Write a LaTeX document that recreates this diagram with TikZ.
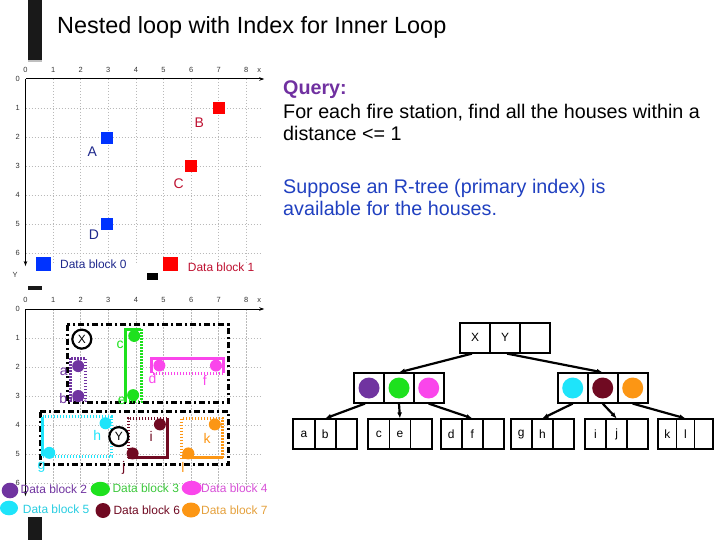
\documentclass[tikz,border=0pt]{standalone}
\usepackage{fontspec}
\setmainfont{Liberation Sans}
\usetikzlibrary{arrows.meta}
\definecolor{cpur}{RGB}{112,52,160}
\definecolor{cgrn}{RGB}{30,225,30}
\definecolor{cmag}{RGB}{250,70,235}
\definecolor{ccya}{RGB}{30,228,250}
\definecolor{cmar}{RGB}{112,10,34}
\definecolor{cora}{RGB}{252,150,20}
\definecolor{cblu}{RGB}{0,51,255}
\definecolor{cnavy}{RGB}{30,40,140}
\definecolor{cred}{RGB}{255,0,0}
\definecolor{ccrim}{RGB}{190,16,48}
\definecolor{qpur}{RGB}{112,48,160}
\definecolor{qblu}{RGB}{32,64,192}
\definecolor{lgrn}{RGB}{60,200,60}
\definecolor{lmag}{RGB}{215,80,215}
\definecolor{lcya}{RGB}{40,205,225}
\definecolor{lora}{RGB}{228,160,60}
\begin{document}
\begin{tikzpicture}[x=1bp,y=-1bp,
  gridl/.style={gray!55, dash pattern=on 1.5bp off 1.5bp, line width=0.6bp},
  axisl/.style={line width=1bp, -{Stealth[length=5bp,width=3.5bp]}},
  tick/.style={font=\fontsize{7.5}{8}\selectfont, inner sep=0, text=black!80},
  lbl/.style={font=\fontsize{14}{15}\selectfont, inner sep=0},
  dbtxt/.style={font=\fontsize{12}{13}\selectfont, inner sep=0, anchor=west},
  mbr/.style={line width=3bp, dash pattern=on 6bp off 3bp on 2bp off 3bp},
  solidb/.style={line width=3bp},
  dotb/.style={line width=3bp, dash pattern=on 1.5bp off 1.5bp},
  sq/.style={minimum size=12bp, inner sep=0},
  pt/.style={circle, minimum size=12bp, inner sep=0},
  bigc/.style={circle, draw, line width=2.2bp, minimum size=19bp, inner sep=0, font=\fontsize{12}{12}\selectfont},
  leg/.style={ellipse, inner sep=0},
  cell/.style={draw, line width=1.8bp, inner sep=0, font=\fontsize{12}{12}\selectfont},
  tarrow/.style={line width=2.2bp, -{Latex[length=6bp,width=5bp]}},
  body/.style={font=\fontsize{19.8}{22}\selectfont, inner sep=0, anchor=base west}
]
\useasboundingbox (0,0) rectangle (720,540);

% slide decorations
\fill[black!90] (28,0) rectangle (42,60);
\fill[gray!50] (28,60) rectangle (42,62.5);
\fill[black!90] (28,286) rectangle (42,290);
\fill[black!90] (28,517) rectangle (42,540);

% title
\node[inner sep=0, anchor=base west, font=\fontsize{23.5}{25}\selectfont] (title) at (57,33.5) {Nested loop with Index for Inner Loop};

% right texts
\node[body, text=qpur, font=\fontsize{19.8}{22}\selectfont\bfseries] (q0) at (283,94.3) {Query:};
\node[body] (q1) at (283,118.3) {For each fire station, find all the houses within a};
\node[body] (q2) at (283,141) {distance <= 1};
\node[body, text=qblu] (s1) at (283,193.3) {Suppose an R-tree (primary index) is};
\node[body, text=qblu] (s2) at (283,215.7) {available for the houses.};

% ===== top grid =====
\begin{scope}[shift={(25.5,79)}]
\begin{scope}[x=27.6bp,y=-29bp]
\foreach \i in {1,...,8} \draw[gridl] (\i,0) -- (\i,6.4);
\foreach \j in {1,...,6} \draw[gridl] (0,\j) -- (8.5,\j);
\draw[axisl] (0,0) -- (8.65,0);
\draw[axisl] (0,0) -- (0,6.45);
\foreach \i in {0,...,8} \node[tick] at (\i,-0.3) {\i};
\foreach \j in {0,...,6} \node[tick] at (-0.28,\j) {\j};
\node[tick] (tx) at (8.47,-0.3) {x};
\node[tick] (ty) at (-0.38,6.76) {Y};
\node[sq, fill=cred] (B) at (7,1) {};
\node[sq, fill=cblu] (A) at (2.95,2.02) {};
\node[sq, fill=cred] (C) at (6,3) {};
\node[sq, fill=cblu] (D) at (2.96,5) {};
\node[lbl, text=ccrim] (Bl) at (6.3,1.5) {B};
\node[lbl, text=cnavy] (Al) at (2.42,2.5) {A};
\node[lbl, text=ccrim] (Cl) at (5.55,3.6) {C};
\node[lbl, text=cnavy] (Dl) at (2.48,5.38) {D};
\end{scope}
\end{scope}
\node[minimum width=15bp, minimum height=14bp, inner sep=0, fill=cblu] (lg0) at (43.2,263.7) {};
\node[dbtxt, text=cnavy] (lt0) at (60,264) {Data block 0};
\node[minimum width=15bp, minimum height=14bp, inner sep=0, fill=cred] (lg1) at (170.4,264) {};
\node[dbtxt, text=ccrim] (lt1) at (187.7,267) {Data block 1};
\node[minimum width=11.6bp, minimum height=7bp, inner sep=0, fill=black] (blk) at (152.5,276.5) {};

% ===== bottom grid =====
\begin{scope}[shift={(25.5,309)}]
\begin{scope}[x=27.6bp,y=-29bp]
\foreach \i in {1,...,8} \draw[gridl] (\i,0) -- (\i,6.2);
\foreach \j in {1,...,6} \draw[gridl] (0,\j) -- (8.5,\j);
\draw[axisl] (0,0) -- (8.65,0);
\draw[axisl] (0,0) -- (0,6.45);
\foreach \i in {0,...,8} \node[tick] at (\i,-0.3) {\i};
\foreach \j in {0,...,6} \node[tick] at (-0.28,\j) {\j};
\node[tick] (bx) at (8.47,-0.3) {x};
% MBRs
\draw[mbr] (1.52,0.55) rectangle (7.37,3.24);
\draw[mbr] (0.54,3.55) rectangle (7.37,5.35);
% purple
\draw[dotb, cpur] (1.64,1.69) rectangle (2.19,3.17);
% green
\draw[solidb, cgrn] (3.63,3.2) -- (3.63,0.69) -- (4.2,0.69);
\draw[dotb, cgrn] (4.2,0.69) -- (4.2,3.2) -- (3.63,3.2);
% magenta
\draw[solidb, cmag] (4.57,2.22) -- (4.57,1.72) -- (7.17,1.72) -- (7.17,2.22);
\draw[dotb, cmag] (7.17,2.22) -- (4.57,2.22);
% cyan
\draw[solidb, ccya] (0.62,3.72) -- (0.62,5.08);
\draw[dotb, ccya] (0.62,5.08) -- (3.12,5.08) -- (3.12,3.72) -- (0.62,3.72);
% maroon
\draw[solidb, cmar] (3.72,5.13) -- (5.14,5.13) -- (5.14,3.76);
\draw[dotb, cmar] (5.14,3.76) -- (3.72,3.76) -- (3.72,5.13);
% orange
\draw[solidb, cora] (5.67,5.13) -- (7.14,5.13);
\draw[dotb, cora] (7.14,5.13) -- (7.14,3.76) -- (5.67,3.76) -- (5.67,5.13);
% points
\node[pt, fill=cpur] (pa) at (1.91,1.97) {};
\node[pt, fill=cpur] (pb) at (1.91,3.0) {};
\node[pt, fill=cgrn] (pc) at (3.94,0.93) {};
\node[pt, fill=cgrn] (pe) at (3.9,2.97) {};
\node[pt, fill=cmag] (pd) at (4.85,1.95) {};
\node[pt, fill=cmag] (pf) at (6.9,1.95) {};
\node[pt, fill=ccya] (pg) at (0.86,4.96) {};
\node[pt, fill=ccya] (ph) at (2.9,3.94) {};
\node[pt, fill=cmar] (pi) at (4.87,3.98) {};
\node[pt, fill=cmar] (pj) at (3.88,4.98) {};
\node[pt, fill=cora] (pk) at (6.86,3.98) {};
\node[pt, fill=cora] (pl) at (5.9,4.98) {};
% labels
\node[lbl, text=cpur] (la) at (1.39,2.16) {a};
\node[lbl, text=cpur] (lb) at (1.37,3.09) {b};
\node[lbl, text=cgrn] (lc) at (3.43,1.22) {c};
\node[lbl, text=cgrn] (le) at (3.49,3.16) {e};
\node[lbl, text=cmag] (ld) at (4.6,2.4) {d};
\node[lbl, text=cmag] (lf) at (6.5,2.45) {f};
\node[lbl, text=ccya] (lg) at (0.58,5.44) {g};
\node[lbl, text=ccya] (lh) at (2.6,4.37) {h};
\node[lbl, text=cmar] (li) at (4.55,4.4) {i};
\node[lbl, text=cmar] (lj) at (3.56,5.48) {j};
\node[lbl, text=cora] (lk) at (6.58,4.48) {k};
\node[lbl, text=cora] (ll) at (5.7,5.48) {l};
% X, Y
\node[bigc, fill=white] (cX) at (2.04,1.04) {X};
\node[bigc, fill=white] (cY) at (3.38,4.4) {Y};
\end{scope}
\end{scope}

% bottom legend
\fill[cpur] (10,490.5) ellipse (8.3bp and 7.8bp);
\node[dbtxt, text=cpur] (lt2) at (20.5,489.5) {Data block 2};
\fill[cgrn] (100.3,489) ellipse (9.7bp and 7.2bp);
\node[dbtxt, text=lgrn] (lt3) at (112.3,488.5) {Data block 3};
\fill[cmag] (191.7,488) ellipse (10bp and 7.2bp);
\node[dbtxt, text=lmag] (lt4) at (201,487.8) {Data block 4};
\fill[ccya] (9,508) ellipse (9bp and 7.3bp);
\node[dbtxt, text=lcya] (lt5) at (22.7,509) {Data block 5};
\fill[cmar] (103,510.5) ellipse (7.5bp and 7.5bp);
\node[dbtxt, text=cmar] (lt6) at (113.3,510.5) {Data block 6};
\fill[cora] (191,510) ellipse (9bp and 7.5bp);
\node[dbtxt, text=lora] (lt7) at (201,510) {Data block 7};

% ===== tree =====
% root
\node[cell, minimum width=30bp, minimum height=30bp] (r1) at (475,337.7) {X};
\node[cell, minimum width=30bp, minimum height=30bp] (r2) at (505,337.7) {Y};
\node[cell, minimum width=29.7bp, minimum height=30bp] (r3) at (534.8,337.7) {};
% middle
\foreach \n/\cx/\col in {1/369/cpur,2/399/cgrn,3/428.7/cmag}{
  \node[cell, minimum width=30bp, minimum height=29.4bp] (ml\n) at (\cx,388) {};
  \fill[\col] (\cx,388) circle (10.5bp);
}
\foreach \n/\cx/\col in {1/572.7/ccya,2/602.7/cmar,3/632.7/cora}{
  \node[cell, minimum width=30bp, minimum height=29.4bp] (mr\n) at (\cx,388) {};
  \fill[\col] (\cx,388) circle (10.5bp);
}
% leaves
\foreach \n/\x/\w/\p/\q in {1/293.3/21.3/a/b, 2/368.3/21.1/c/e, 3/440.7/21.1/d/f, 4/510.7/21.1/g/h, 5/585/21.1/i/j, 6/658.3/18.1/k/l}{
  \node[cell, minimum width=\w bp, minimum height=30bp] (l\n a) at ({\x+0.5*\w},434.3) {\p};
  \node[cell, minimum width=\w bp, minimum height=30bp] (l\n b) at ({\x+1.5*\w},434.3) {\q};
  \node[cell, minimum width=\w bp, minimum height=30bp] (l\n c) at ({\x+2.5*\w},434.3) {};
}
% arrows
\draw[tarrow] ([xshift=-3bp]r1.south) -- (ml2.north);
\draw[tarrow] ([xshift=2bp]r2.south) -- (mr2.north);
\draw[tarrow] ([xshift=-4bp]ml1.south) -- (l1b.north);
\draw[tarrow] (ml2.south) -- (l2b.north);
\draw[tarrow] (ml3.south) -- (l3b.north);
\draw[tarrow] (mr1.south) -- (l4b.north);
\draw[tarrow] (mr2.south) -- (l5b.north);
\draw[tarrow] (mr3.south) -- (l6b.north);
\end{tikzpicture}
\end{document}
